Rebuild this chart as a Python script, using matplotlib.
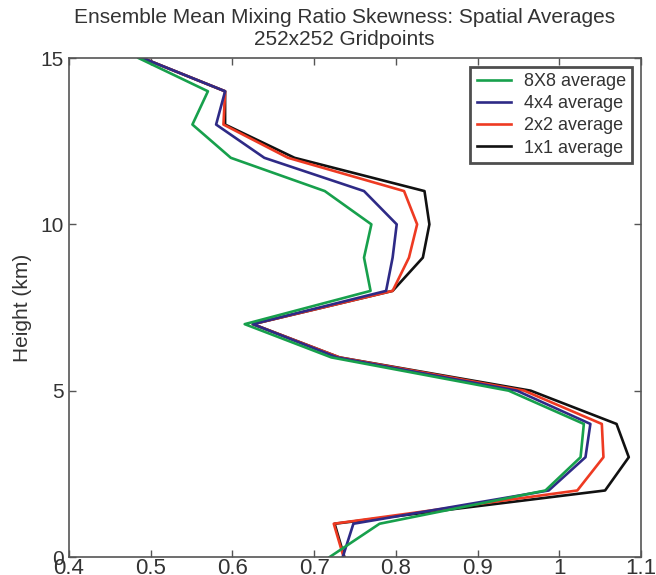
import matplotlib
matplotlib.use("Agg")
import matplotlib.pyplot as plt

plt.rcParams['font.family'] = ['Liberation Sans Narrow', 'Liberation Sans', 'DejaVu Sans']

height = [0, 1, 2, 3, 4, 5, 6, 7, 8, 9, 10, 11, 12, 13, 14, 15]

avg8 = [0.719, 0.780, 0.983, 1.026, 1.030, 0.938, 0.721, 0.615, 0.769, 0.761, 0.770, 0.713, 0.598, 0.551, 0.570, 0.485]
avg4 = [0.735, 0.748, 0.987, 1.032, 1.038, 0.948, 0.728, 0.625, 0.788, 0.796, 0.801, 0.761, 0.639, 0.580, 0.591, 0.490]
avg2 = [0.736, 0.724, 1.022, 1.054, 1.052, 0.957, 0.731, 0.625, 0.796, 0.816, 0.826, 0.810, 0.668, 0.589, 0.591, 0.490]
avg1 = [0.737, 0.725, 1.056, 1.085, 1.070, 0.965, 0.731, 0.625, 0.796, 0.833, 0.841, 0.835, 0.676, 0.591, 0.591, 0.490]

labels = ["8X8 average", "4x4 average", "2x2 average", "1x1 average"]
colors = ["#17a04c", "#2e2a86", "#ee3a22", "#111111"]

fig = plt.figure(figsize=(6.56, 5.75), dpi=100)
ax = fig.add_axes([0.1052, 0.0313, 0.872, 0.8678])

series = [avg8, avg4, avg2, avg1]
handles = []
for vals, lab, col in reversed(list(zip(series, labels, colors))):
    h, = ax.plot(vals, height, color=col, lw=1.9, label=lab)
    handles.append(h)
handles = handles[::-1]

ax.set_xlim(0.4, 1.1)
ax.set_ylim(0, 15)
ax.set_xticks([0.4, 0.5, 0.6, 0.7, 0.8, 0.9, 1.0, 1.1])
ax.set_xticklabels(["0.4", "0.5", "0.6", "0.7", "0.8", "0.9", "1", "1.1"])
ax.set_yticks([0, 5, 10, 15])
ax.tick_params(direction='in', top=True, right=True, length=5, width=1,
               color='#555555', labelsize=15, labelcolor='#333333', pad=4)
ax.tick_params(axis='x', pad=0.5, labelsize=16)
for sp in ax.spines.values():
    sp.set_color('#555555')
    sp.set_linewidth(1.2)

ax.set_ylabel("Height (km)", fontsize=15, color='#333333', labelpad=6)
fig.text(0.525, 0.969, "Ensemble Mean Mixing Ratio Skewness: Spatial Averages",
         ha='center', va='center', fontsize=15, color='#333333')
fig.text(0.525, 0.931, "252x252 Gridpoints",
         ha='center', va='center', fontsize=15, color='#333333')

leg = ax.legend(handles=handles, loc='upper right', fontsize=13, frameon=True,
                fancybox=False, edgecolor='#222222', handlelength=1.9,
                borderaxespad=0.5, labelspacing=0.28, handletextpad=0.7,
                borderpad=0.35)
leg.get_frame().set_linewidth(2)
for t in leg.get_texts():
    t.set_color('#333333')

fig.savefig("out.png", dpi=100)
